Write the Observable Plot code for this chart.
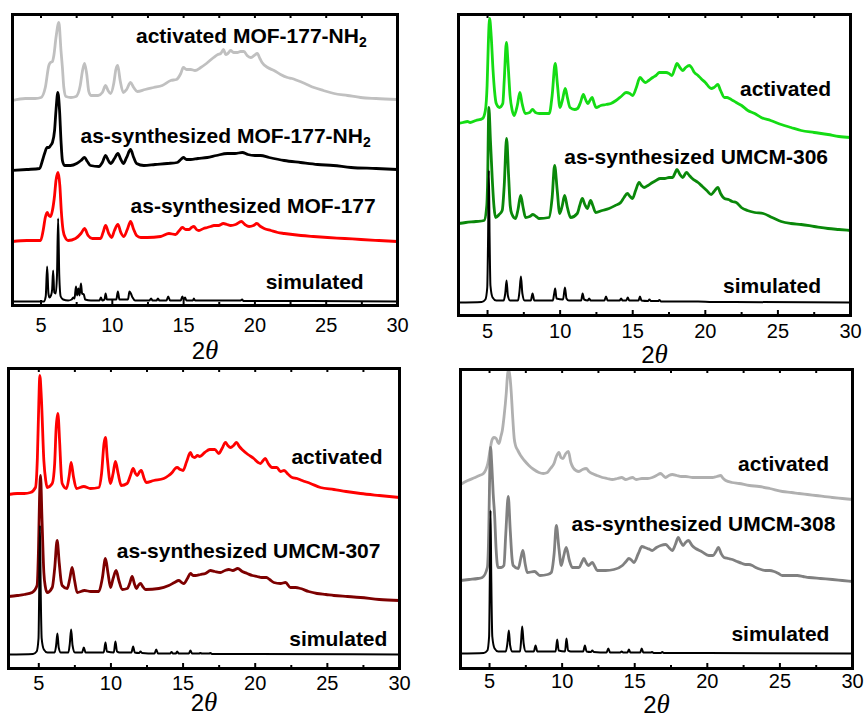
<!DOCTYPE html>
<html><head><meta charset="utf-8">
<script src="https://cdn.jsdelivr.net/npm/d3@7"></script>
<script src="https://cdn.jsdelivr.net/npm/@observablehq/plot@0.6"></script>
<style>
body{margin:0;background:#fff;}
#wrap{position:relative;width:864px;height:717px;background:#fff;overflow:hidden;}
.panel{position:absolute;overflow:visible;}
</style></head><body><div id="wrap"></div>
<script>
// ---------- data: [2θ, intensity (a.u., stacked)] ----------
const mof177ActivatedNH2 = [[3.0,205],[3.9,207],[4.6,207],[5.0,208],[5.3,218],[5.55,240],[5.67,243],[5.8,244],[5.9,250],[6.05,268],[6.25,283],[6.4,255],[6.5,238],[6.6,218],[6.75,209],[7.1,208],[7.45,209],[7.75,220],[7.9,234],[8.05,242],[8.2,232],[8.35,214],[8.5,210],[9.0,210],[9.3,213],[9.53,220],[9.7,215],[9.88,212],[10.1,222],[10.25,236],[10.38,240],[10.55,225],[10.77,213],[11.0,216],[11.28,223],[11.5,218],[11.75,214],[12.3,216],[12.9,218],[13.5,220],[14.1,225],[14.5,226],[14.8,232],[14.98,238],[15.2,236],[15.5,236],[15.8,235],[16.2,238],[16.6,242],[17.1,248],[17.4,251],[17.6,252],[17.8,256],[17.95,251],[18.1,252],[18.3,255],[18.5,253],[18.77,253],[19.0,254],[19.23,254],[19.45,250],[19.7,248],[19.95,250],[20.17,252],[20.35,247],[20.5,243],[20.9,238],[21.34,235],[21.8,231],[22.28,228],[22.6,227],[22.98,225],[23.5,222],[24.14,218],[24.8,215],[25.55,212],[26.5,210],[27.42,208],[28.5,207],[30.0,206]];
const mof177AsSynNH2 = [[3.0,135],[4.0,136],[4.9,137],[5.1,145],[5.25,152],[5.43,158],[5.55,158],[5.67,160],[5.8,163],[5.95,175],[6.05,195],[6.18,213],[6.3,195],[6.4,165],[6.5,145],[6.65,140],[7.07,140],[7.5,142],[7.8,145],[8.05,148],[8.25,144],[8.47,140],[9.06,139],[9.3,143],[9.53,150],[9.72,145],[9.88,142],[10.15,147],[10.39,152],[10.6,146],[10.77,142],[11.0,148],[11.28,156],[11.5,148],[11.7,142],[12.21,140],[13.0,141],[13.85,142],[14.55,143],[14.8,146],[14.98,148],[15.2,146],[15.49,146],[16.0,147],[16.66,148],[17.3,150],[18.07,152],[18.6,152],[19.12,153],[19.5,151],[20.0,150],[20.4,150],[21.0,148],[22.05,145],[23.2,143],[24.4,141],[25.5,140],[26.74,138],[28.5,137],[30.0,136]];
const mof177AsSyn = [[3.0,64],[4.0,65],[4.97,65],[5.15,75],[5.3,88],[5.43,93],[5.55,90],[5.67,89],[5.8,95],[5.95,110],[6.05,125],[6.2,133],[6.32,120],[6.42,95],[6.55,75],[6.7,68],[6.9,65],[7.42,67],[7.8,72],[8.05,77],[8.3,70],[8.6,67],[9.18,67],[9.35,73],[9.53,80],[9.75,72],[9.95,68],[10.15,75],[10.39,81],[10.6,73],[10.81,69],[11.05,76],[11.28,84],[11.5,76],[11.7,70],[12.0,68],[12.45,68],[13.39,69],[13.97,72],[14.44,71],[14.7,75],[14.91,78],[15.15,76],[15.37,76],[15.55,78],[15.72,79],[15.9,76],[16.07,75],[16.4,77],[16.66,78],[16.9,79],[17.13,80],[17.45,80],[17.79,82],[18.05,81],[18.3,80],[18.65,81],[19.05,84],[19.3,81],[19.59,79],[19.9,80],[20.13,82],[20.4,79],[20.65,77],[21.12,75],[21.6,73],[22.06,72],[23.23,70],[24.1,69],[25.1,68],[26.3,67],[27.44,66],[28.7,65],[30.0,64]];
const mof177Sim = [[3.0,4],[5.2,4],[5.33,9],[5.43,39],[5.52,12],[5.6,8],[5.7,10],[5.78,16],[5.85,35],[5.93,13],[6.03,12],[6.12,30],[6.2,87],[6.28,30],[6.38,9],[6.55,6],[6.9,5],[7.15,6],[7.26,8],[7.35,7],[7.45,19],[7.53,10],[7.62,17],[7.7,10],[7.8,22],[7.88,12],[8.0,11],[8.1,6],[8.5,5],[9.1,5],[9.2,8],[9.3,5],[9.45,6],[9.53,12],[9.62,6],[10.28,6],[10.39,14],[10.5,6],[11.1,6],[11.2,14],[11.3,12],[11.42,8],[11.6,5],[12.6,5],[12.72,7],[12.82,5],[13.1,5],[13.2,7],[13.3,5],[13.8,5],[13.92,9],[14.05,5],[14.8,5],[14.91,9],[15.0,6],[15.1,8],[15.2,5],[15.65,5],[15.72,7],[15.8,5],[16.5,5],[19.0,5],[19.1,6],[19.2,4.5],[22.0,4.5],[30.0,4]];

const umcm306Activated = [[3.0,192],[3.3,193],[3.62,194],[3.8,193],[4.2,195],[4.66,197],[4.85,205],[4.97,230],[5.05,270],[5.14,297],[5.25,280],[5.38,245],[5.48,225],[5.6,212],[5.82,208],[6.05,212],[6.15,235],[6.3,273],[6.42,250],[6.55,220],[6.7,205],[6.83,200],[7.05,210],[7.23,223],[7.38,212],[7.6,202],[7.9,203],[8.1,206],[8.3,203],[8.56,202],[9.25,202],[9.45,220],[9.66,252],[9.82,230],[9.99,208],[10.15,215],[10.35,227],[10.5,218],[10.68,208],[11.0,206],[11.2,207],[11.4,213],[11.6,221],[11.75,216],[11.9,212],[12.05,215],[12.2,218],[12.35,212],[12.47,208],[12.8,210],[13.16,211],[13.5,212],[13.85,215],[14.2,219],[14.54,223],[14.8,222],[15.0,220],[15.25,228],[15.5,238],[15.7,235],[15.87,233],[16.1,235],[16.38,238],[16.6,240],[16.84,243],[17.05,243],[17.3,243],[17.5,242],[17.7,240],[17.9,247],[18.05,252],[18.25,248],[18.44,245],[18.65,248],[18.9,250],[19.05,248],[19.25,243],[19.5,240],[19.7,237],[20.0,233],[20.4,227],[20.6,228],[20.86,231],[21.05,225],[21.32,218],[21.5,218],[21.67,217],[21.9,215],[22.13,213],[22.5,210],[22.93,205],[23.4,202],[23.85,198],[24.5,195],[25.23,191],[25.9,188],[26.6,185],[27.5,183],[28.45,181],[29.2,179],[30.0,178]];
const umcm306AsSyn = [[3.0,92],[3.5,93],[4.2,94],[4.76,95],[4.95,110],[5.0,130],[5.09,208],[5.2,175],[5.32,138],[5.45,108],[5.55,98],[5.8,101],[6.01,105],[6.15,130],[6.31,177],[6.45,140],[6.56,110],[6.66,102],[6.93,97],[7.1,106],[7.28,120],[7.45,108],[7.62,98],[7.9,99],[8.13,101],[8.35,99],[8.54,97],[9.23,98],[9.45,118],[9.62,150],[9.8,125],[9.97,102],[10.15,110],[10.31,120],[10.5,108],[10.72,98],[11.18,102],[11.35,110],[11.53,117],[11.7,111],[11.87,107],[12.1,115],[12.25,110],[12.45,103],[12.9,105],[13.37,107],[13.8,110],[14.17,113],[14.4,118],[14.63,122],[14.82,119],[14.98,117],[15.2,125],[15.44,133],[15.6,130],[15.78,128],[16.05,130],[16.36,133],[16.6,135],[16.9,137],[17.2,137],[17.5,138],[17.75,138],[17.9,142],[18.05,146],[18.25,141],[18.44,138],[18.7,143],[18.9,140],[19.1,137],[19.5,133],[19.8,129],[20.1,125],[20.4,121],[20.6,124],[20.86,128],[21.05,122],[21.32,117],[21.6,116],[21.85,114],[22.13,113],[22.48,108],[22.9,105],[23.4,103],[23.99,102],[24.6,98],[25.23,94],[25.9,92],[26.6,91],[27.5,89],[28.45,87],[29.2,86],[30.0,85]];
const umcm306Sim = [[3.0,13],[4.6,13.5],[4.85,16],[4.98,28],[5.04,80],[5.09,145],[5.14,80],[5.2,30],[5.35,18],[5.6,15],[6.1,15],[6.22,22],[6.31,35],[6.4,20],[6.55,15],[7.1,15],[7.2,24],[7.3,39],[7.4,22],[7.55,15],[7.98,15],[8.1,22],[8.22,15],[9.5,15],[9.58,21],[9.66,27],[9.75,17],[10.2,16],[10.33,28],[10.44,17],[10.6,15],[11.45,15],[11.55,22],[11.65,16],[11.9,15],[12.0,17],[12.1,15],[13.05,15],[13.16,19],[13.27,15],[14.1,15],[14.2,17],[14.3,15],[14.55,15],[14.66,18],[14.76,15],[15.4,15],[15.5,19],[15.6,15],[16.05,14.5],[16.15,16],[16.25,14.5],[16.75,14.5],[16.84,15.5],[16.95,14],[17.5,14],[19.5,14],[20.5,13.5],[22.0,13.5],[30.0,13]];

const umcm307Activated = [[2.9,174],[3.5,175],[4.0,175],[4.42,176],[4.77,181],[4.9,210],[5.0,265],[5.07,293],[5.18,270],[5.35,208],[5.48,188],[5.58,181],[5.93,185],[6.1,205],[6.2,240],[6.32,255],[6.45,225],[6.55,195],[6.62,185],[6.92,180],[7.1,192],[7.24,206],[7.4,192],[7.61,180],[8.12,182],[8.58,180],[9.16,181],[9.35,195],[9.52,225],[9.62,231],[9.75,210],[9.97,185],[10.15,195],[10.31,207],[10.5,195],[10.71,183],[11.12,185],[11.35,193],[11.54,200],[11.7,195],[11.82,193],[12.0,197],[12.1,198],[12.3,190],[12.44,186],[12.97,188],[13.66,190],[14.0,193],[14.24,196],[14.45,200],[14.59,201],[14.8,199],[15.0,198],[15.25,207],[15.51,216],[15.65,212],[15.81,211],[16.0,213],[16.16,212],[16.5,216],[16.85,219],[17.2,219],[17.48,215],[17.7,220],[17.94,226],[18.1,223],[18.29,221],[18.5,223],[18.7,226],[18.9,222],[19.09,219],[19.5,214],[19.9,210],[20.2,206],[20.36,205],[20.55,208],[20.7,210],[20.9,205],[21.17,201],[21.5,201],[21.75,197],[22.0,198],[22.3,194],[22.56,191],[22.9,190],[23.25,188],[23.83,185],[24.52,181],[25.45,179],[26.3,177],[27.3,175],[28.6,173],[30.0,171]];
const umcm307AsSyn = [[2.9,72],[3.5,73],[4.0,74],[4.54,76],[4.88,83],[4.98,120],[5.05,170],[5.12,193],[5.22,150],[5.35,96],[5.45,82],[5.58,76],[5.93,81],[6.1,100],[6.27,128],[6.42,105],[6.55,87],[6.62,83],[6.97,80],[7.15,90],[7.31,101],[7.48,88],[7.66,76],[8.17,78],[8.6,77],[9.16,77],[9.4,90],[9.62,110],[9.8,95],[9.97,81],[10.15,90],[10.36,98],[10.55,88],[10.78,79],[11.13,80],[11.3,85],[11.47,92],[11.62,85],[11.77,80],[11.9,83],[12.05,85],[12.2,82],[12.4,79],[13.32,80],[14.01,83],[14.4,86],[14.7,88],[14.9,86],[15.05,85],[15.3,90],[15.51,95],[15.7,93],[15.86,93],[16.2,94],[16.55,95],[16.9,98],[17.2,97],[17.59,96],[17.9,98],[18.17,99],[18.45,98],[18.79,100],[19.1,97],[19.44,95],[19.8,93],[20.13,92],[20.45,91],[20.78,91],[21.0,89],[21.29,86],[21.75,85],[22.1,86],[22.44,81],[22.8,81],[23.14,80],[23.7,77],[24.29,75],[24.9,74],[25.45,73],[26.4,72],[27.3,71],[28.6,69],[30.0,68]];
const umcm307Sim = [[2.9,14],[4.6,14.5],[4.85,17],[4.98,30],[5.03,80],[5.08,143],[5.13,80],[5.2,30],[5.35,19],[5.6,16],[6.1,16],[6.2,23],[6.29,35],[6.38,21],[6.52,16],[7.05,16],[7.15,25],[7.24,39],[7.34,23],[7.5,16],[8.0,16],[8.12,21],[8.24,16],[9.5,16],[9.62,26],[9.72,17],[10.2,16],[10.31,27],[10.42,17],[10.6,16],[11.42,16],[11.54,22],[11.65,16],[11.95,15.5],[12.05,17],[12.15,15.5],[13.02,15],[13.14,19],[13.26,15],[14.1,15],[14.2,16.5],[14.3,15],[14.5,15],[14.59,17],[14.7,15],[15.4,15],[15.51,18],[15.62,15],[16.1,15],[16.2,15.5],[16.3,15],[16.8,15],[16.9,15.5],[17.0,14.5],[18.0,14.5],[20.0,14.5],[30.0,14]];

const umcm308Activated = [[3.0,184],[3.5,188],[4.01,191],[4.3,193],[4.58,195],[4.75,199],[4.88,205],[5.0,215],[5.16,228],[5.3,231],[5.46,230],[5.58,226],[5.65,225],[5.78,232],[5.88,238],[6.0,252],[6.15,275],[6.25,295],[6.33,299],[6.42,290],[6.5,275],[6.58,255],[6.7,230],[6.79,223],[6.95,218],[7.14,213],[7.4,208],[7.71,203],[8.05,199],[8.4,196],[8.7,195],[8.98,196],[9.2,200],[9.44,205],[9.6,212],[9.78,216],[9.92,211],[10.06,210],[10.25,215],[10.43,217],[10.6,206],[10.75,201],[10.95,198],[11.16,197],[11.4,199],[11.66,200],[11.85,197],[12.08,195],[12.4,193],[12.77,191],[13.1,190],[13.46,189],[13.8,190],[14.1,191],[14.38,189],[14.6,190],[14.84,191],[15.1,189],[15.5,190],[15.9,190],[16.21,191],[16.5,193],[16.79,195],[16.95,193],[17.13,191],[17.35,193],[17.59,194],[17.9,193],[18.2,192],[18.51,192],[19.0,191],[19.43,191],[19.9,191],[20.35,191],[20.65,192],[20.92,193],[21.1,190],[21.27,188],[21.7,186],[22.19,185],[22.9,183],[23.57,182],[24.3,180],[25.17,177],[25.8,176],[26.32,175],[26.9,174],[27.47,173],[28.6,171],[29.3,170],[30.0,169]];
const umcm308AsSyn = [[3.0,88],[3.6,89],[4.2,90],[4.5,91],[4.85,101],[4.95,140],[5.0,185],[5.07,221],[5.15,205],[5.25,175],[5.35,153],[5.45,120],[5.58,101],[5.8,101],[5.99,103],[6.12,135],[6.29,172],[6.42,140],[6.55,110],[6.63,103],[6.98,100],[7.15,110],[7.3,118],[7.45,105],[7.6,96],[8.1,97],[8.47,93],[9.0,94],[9.25,96],[9.45,115],[9.6,143],[9.78,120],[9.94,103],[10.1,112],[10.28,121],[10.5,108],[10.7,101],[11.16,101],[11.35,106],[11.5,110],[11.65,106],[11.8,103],[12.08,106],[12.25,102],[12.42,98],[13.0,98],[13.57,99],[14.15,103],[14.4,107],[14.6,110],[14.8,108],[14.95,106],[15.25,115],[15.5,122],[15.7,121],[15.87,120],[16.05,119],[16.21,118],[16.5,121],[16.79,123],[17.13,124],[17.35,121],[17.59,118],[17.8,124],[18.0,131],[18.15,127],[18.33,123],[18.5,126],[18.7,128],[18.95,123],[19.2,120],[19.6,117],[20.1,113],[20.4,113],[20.6,117],[20.76,121],[20.95,115],[21.15,111],[21.45,110],[21.73,109],[22.05,107],[22.41,105],[22.65,104],[22.87,104],[23.1,103],[23.33,101],[23.7,99],[24.02,98],[24.3,98],[24.6,97],[24.9,95],[25.17,93],[25.7,93],[26.2,93],[26.6,92],[27.01,91],[27.8,90],[28.62,89],[29.3,88],[30.0,87]];
const umcm308Sim = [[3.0,15],[4.6,15.5],[4.85,18],[4.97,32],[5.02,90],[5.07,158],[5.12,90],[5.19,32],[5.35,20],[5.6,17],[6.12,17],[6.23,25],[6.33,38],[6.42,23],[6.57,17],[7.1,17],[7.17,27],[7.25,42],[7.35,25],[7.5,17],[8.05,17],[8.17,23],[8.29,17],[9.55,17],[9.66,29],[9.76,18],[10.2,17],[10.3,30],[10.41,18],[10.6,17],[11.45,17],[11.57,23],[11.68,17],[11.98,16.5],[12.08,18],[12.18,16.5],[13.06,16],[13.18,20],[13.3,16],[14.0,16],[14.1,17],[14.2,16],[14.5,16],[14.6,19],[14.7,16],[15.38,16],[15.48,20],[15.59,16],[16.1,16],[16.2,16.5],[16.3,15.5],[16.8,15.5],[16.9,16.5],[17.0,15.5],[18.0,15.5],[20.0,15.5],[30.0,15]];

// ---------- labels ----------
const labels177 = [
  {text: "activated MOF-177-NH₂", x: 27.84, y: 263},
  {text: "as-synthesized MOF-177-NH₂", x: 28.12, y: 163},
  {text: "as-synthesized MOF-177", x: 28.47, y: 93},
  {text: "simulated", x: 27.63, y: 17}
];
const labels306 = [
  {text: "activated", x: 28.66, y: 220},
  {text: "as-synthesized UMCM-306", x: 28.45, y: 152},
  {text: "simulated", x: 27.97, y: 23}
];
const labels307 = [
  {text: "activated", x: 28.82, y: 205},
  {text: "as-synthesized UMCM-307", x: 28.68, y: 111},
  {text: "simulated", x: 29.16, y: 23}
];
const labels308 = [
  {text: "activated", x: 28.39, y: 198},
  {text: "as-synthesized UMCM-308", x: 28.82, y: 138},
  {text: "simulated", x: 28.41, y: 28}
];

const majorTicks = [5, 10, 15, 20, 25, 30];
const minorTicks = [7.5, 12.5, 17.5, 22.5, 27.5];
const xLabel = "2θ";

// ---------- panel layout ----------
const panels = [
  {left: 0, top: 0, width: 432, height: 368, ml: 12, mr: 35, mt: 14, mb: 63, xd: [3, 30], ymax: 291, tp: 12, ldy: 53,
   series: [[mof177ActivatedNH2, "#c0c0c0", 2.8], [mof177AsSynNH2, "#000000", 2.8], [mof177AsSyn, "#ff0000", 2.8], [mof177Sim, "#000000", 2]],
   labels: labels177},
  {left: 432, top: 0, width: 432, height: 368, ml: 26, mr: 14, mt: 14, mb: 53, xd: [3, 30], ymax: 301, tp: 8, ldy: 47,
   series: [[umcm306Activated, "#14dc14", 2.8], [umcm306AsSyn, "#0a880a", 2.8], [umcm306Sim, "#000000", 2]],
   labels: labels306},
  {left: 0, top: 360, width: 432, height: 357, ml: 8, mr: 33, mt: 8, mb: 49, xd: [2.9, 30], ymax: 300, tp: 7, ldy: 42,
   series: [[umcm307Activated, "#ff0000", 2.8], [umcm307AsSyn, "#7d0000", 2.8], [umcm307Sim, "#000000", 2]],
   labels: labels307},
  {left: 432, top: 360, width: 432, height: 357, ml: 28, mr: 12, mt: 9, mb: 49, xd: [3, 30], ymax: 299, tp: 5, ldy: 44,
   series: [[umcm308Activated, "#b0b0b0", 2.8], [umcm308AsSyn, "#808080", 2.8], [umcm308Sim, "#000000", 2]],
   labels: labels308}
];

const toRows = arr => arr.map(([t, i]) => ({t, i}));
const wrap = document.getElementById("wrap");

for (const p of panels) {
  const innerH = p.height - p.mt - p.mb;
  const chart = Plot.plot({
    width: p.width, height: p.height,
    marginLeft: p.ml, marginRight: p.mr, marginTop: p.mt, marginBottom: p.mb,
    style: {fontFamily: "'Liberation Sans', Arial, sans-serif", background: "transparent", color: "black", overflow: "visible"},
    x: {domain: p.xd},
    y: {domain: [0, p.ymax], axis: null},
    marks: [
      ...p.series.map(([d, c, w]) => Plot.line(toRows(d), {x: "t", y: "i", stroke: c, strokeWidth: w, curve: "monotone-x", strokeLinejoin: "round", strokeLinecap: "round"})),
      Plot.text(p.labels, {x: "x", y: "y", text: "text", textAnchor: "end", lineAnchor: "bottom", fontSize: 21, fontWeight: "bold", fill: "black"}),
      Plot.ruleX(majorTicks, {insetTop: innerH - 5, strokeWidth: 2, stroke: "black"}),
      Plot.ruleX(minorTicks, {insetTop: innerH - 3, strokeWidth: 2, stroke: "black"}),
      Plot.ruleX(majorTicks.concat(minorTicks), {insetBottom: innerH - 4, strokeWidth: 2, stroke: "black"}),
      Plot.frame({stroke: "black", strokeWidth: 3}),
      Plot.axisX({ticks: majorTicks, tickSize: 0, tickPadding: p.tp, fontSize: 20, label: null}),
      Plot.text([xLabel], {text: d => d, frameAnchor: "bottom", dy: p.ldy, lineAnchor: "bottom", fontSize: 24, fill: "black"})
    ]
  });
  chart.classList.add("panel");
  chart.style.left = p.left + "px";
  chart.style.top = p.top + "px";
  wrap.appendChild(chart);

  // rich text: subscripts and italic theta
  d3.select(chart).selectAll("text").each(function() {
    const el = d3.select(this);
    const s = this.textContent;
    if (s.includes("₂")) {
      el.text(s.replace("₂", ""));
      el.append("tspan").attr("font-size", 14).attr("dy", "0.3em").text("2");
    } else if (s === xLabel) {
      el.text("");
      el.append("tspan").attr("font-family", "'Liberation Sans', Arial, sans-serif").attr("font-style", "normal").attr("font-size", 24).text("2");
      el.append("tspan").attr("font-family", "'Liberation Serif', 'DejaVu Serif', serif").attr("font-style", "italic").attr("font-size", 27).text("θ");
    }
  });
}
</script></body></html>
